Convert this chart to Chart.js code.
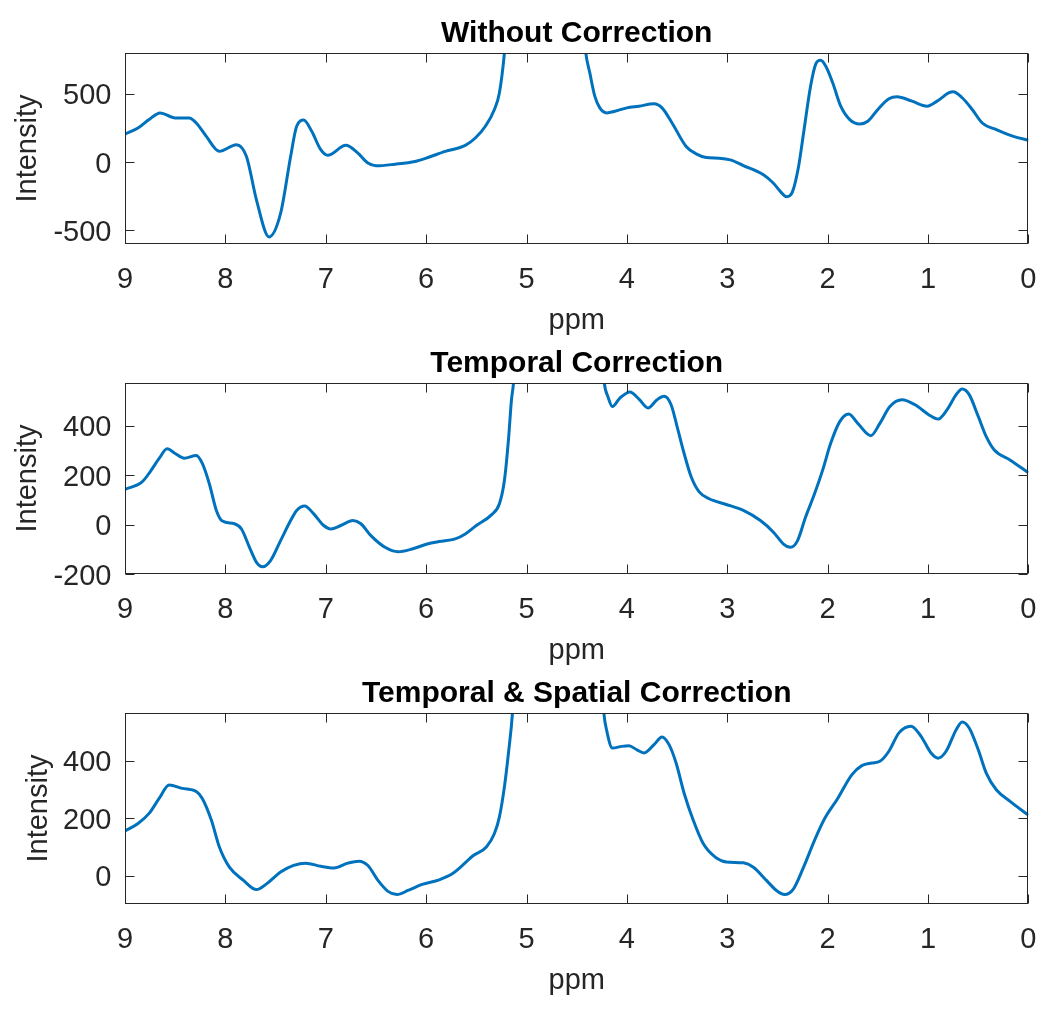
<!DOCTYPE html>
<html>
<head>
<meta charset="utf-8">
<script src="https://cdn.jsdelivr.net/npm/chart.js@4/dist/chart.umd.min.js"></script>
<style>
  html, body { margin: 0; background: #fff; }
  #wrap { position: relative; width: 1055px; height: 1010px; }
  canvas { position: absolute; left: 0; }
</style>
</head>
<body>
<div id="wrap">
  <canvas id="c1" width="1055" height="345" style="top:0px"></canvas>
  <canvas id="c2" width="1055" height="345" style="top:330px"></canvas>
  <canvas id="c3" width="1055" height="345" style="top:660px"></canvas>
</div>
<script>
// x axis (ppm, reversed) ticks shared by all three panels
const xTicks = [9, 8, 7, 6, 5, 4, 3, 2, 1, 0];

// panel 1: without correction (values above the axis top are the clipped water peak)
const ppmRaw = [9.0, 8.87, 8.76, 8.65, 8.5, 8.36, 8.29, 8.19, 8.06, 7.89,
  7.79, 7.69, 7.565, 7.45, 7.35, 7.29, 7.22, 7.14, 7.05, 6.98,
  6.80, 6.68, 6.58, 6.5, 6.31, 6.11, 6.0, 5.81, 5.61, 5.51,
  5.41, 5.32, 5.27, 5.22, 5.1, 4.55, 4.41, 4.37, 4.32, 4.27,
  4.20, 4.12, 4.0, 3.88, 3.73, 3.65, 3.55, 3.41, 3.31, 3.21,
  3.08, 2.97, 2.84, 2.64, 2.54, 2.47, 2.41, 2.35, 2.29, 2.24,
  2.17, 2.12, 2.07, 2.02, 1.95, 1.87, 1.78, 1.68, 1.60, 1.50,
  1.39, 1.31, 1.16, 1.01, 0.91, 0.79, 0.75, 0.66, 0.56, 0.46,
  0.32, 0.15, 0.0];
const intRaw = [206, 250, 312, 361, 324, 324, 287, 189, 79, 128,
  42, -278, -548, -376, 42, 263, 308, 226, 91, 50,
  123, 66, -7, -27, -15, 5, 29, 79, 123, 177,
  263, 386, 509, 803, 2000, 2000, 803, 656, 484, 398,
  361, 373, 398, 410, 428, 398, 287, 115, 61, 34,
  29, 17, -25, -93, -155, -216, -253, -216, -32, 214,
  558, 717, 747, 705, 582, 410, 312, 280, 300, 386,
  464, 479, 447, 410, 447, 509, 516, 472, 386, 287,
  238, 189, 160];
const yLimRaw = [-600, 800];
const yTicksRaw = [-500, 0, 500];

// panel 2: temporal correction
const ppmTemp = [9.0, 8.83, 8.75, 8.66, 8.58, 8.50, 8.41, 8.29, 8.23, 8.16,
  8.09, 8.03, 7.91, 7.84, 7.76, 7.69, 7.63, 7.55, 7.45, 7.35,
  7.29, 7.21, 7.12, 7.02, 6.95, 6.85, 6.73, 6.65, 6.55, 6.41,
  6.28, 6.14, 5.99, 5.87, 5.71, 5.61, 5.50, 5.35, 5.27, 5.22,
  5.18, 5.15, 5.13, 5.0, 4.4, 4.225, 4.19, 4.145, 4.07, 3.97,
  3.88, 3.79, 3.70, 3.63, 3.56, 3.50, 3.43, 3.36, 3.28, 3.18,
  3.01, 2.84, 2.67, 2.54, 2.44, 2.37, 2.30, 2.22, 2.13, 2.05,
  1.97, 1.88, 1.79, 1.70, 1.57, 1.48, 1.38, 1.26, 1.13, 0.99,
  0.90, 0.81, 0.72, 0.66, 0.59, 0.50, 0.42, 0.34, 0.18, 0.0];
const intTemp = [142, 172, 213, 267, 306, 287, 268, 279, 247, 165,
  57, 14, 3, -18, -92, -153, -171, -146, -65, 16,
  57, 75, 43, -4, -18, -4, 16, 3, -45, -92,
  -110, -99, -79, -69, -58, -38, -4, 39, 84, 179,
  342, 504, 572, 1500, 1500, 572, 518, 477, 511, 536,
  507, 471, 504, 518, 484, 396, 287, 193, 132, 104,
  81, 57, 16, -31, -79, -92, -65, 30, 125, 220,
  328, 416, 447, 409, 359, 409, 477, 504, 484, 443,
  426, 464, 525, 548, 525, 437, 355, 301, 260, 209];
const yLimTemp = [-200, 572];
const yTicksTemp = [-200, 0, 200, 400];

// panel 3: temporal & spatial correction
const ppmSpat = [9.0, 8.87, 8.76, 8.66, 8.56, 8.43, 8.29, 8.23, 8.14, 8.06,
  7.96, 7.82, 7.69, 7.59, 7.45, 7.32, 7.20, 7.05, 6.92, 6.78,
  6.67, 6.58, 6.48, 6.38, 6.29, 6.18, 6.04, 5.87, 5.74, 5.62,
  5.54, 5.40, 5.32, 5.27, 5.22, 5.18, 5.14, 5.0, 4.4, 4.23,
  4.20, 4.145, 4.05, 3.98, 3.90, 3.83, 3.73, 3.65, 3.58, 3.51,
  3.43, 3.34, 3.24, 3.12, 3.01, 2.84, 2.74, 2.61, 2.51, 2.43,
  2.34, 2.24, 2.13, 2.03, 1.90, 1.76, 1.66, 1.56, 1.48, 1.39,
  1.29, 1.17, 1.07, 0.97, 0.90, 0.82, 0.72, 0.66, 0.59, 0.50,
  0.42, 0.32, 0.18, 0.0];
const intSpat = [156, 182, 217, 269, 316, 304, 293, 269, 194, 100,
  30, -16, -48, -28, 13, 36, 44, 33, 27, 44,
  51, 36, -16, -54, -65, -51, -30, -14, 7, 42,
  68, 100, 147, 205, 310, 427, 567, 1500, 1500, 567,
  503, 444, 450, 452, 438, 427, 456, 483, 456, 392,
  287, 194, 112, 65, 48, 45, 30, -16, -51, -65,
  -45, 30, 124, 199, 269, 351, 383, 392, 398, 433,
  497, 520, 485, 427, 409, 433, 508, 535, 514, 438,
  357, 299, 258, 211];
const yLimSpat = [-98, 566];
const yTicksSpat = [0, 200, 400];

const FONT = "'Liberation Sans', Arial, Helvetica, sans-serif";
const AXIS_COLOR = '#262626';
const LINE_COLOR = '#0072BD';
const CANVAS_H = 345;
const AREA = { left: 125, right: 1031, top: 53, bottom: 244 };
const TICK_LEN = 9;

// matlab style box with inward ticks on all four sides
const boxPlugin = {
  id: 'matlabBox',
  afterDatasetsDraw(chart) {
    const { ctx, chartArea: a, scales: { x, y } } = chart;
    const l = Math.round(a.left) + 0.5, r = Math.round(a.right) - 0.5;
    const t = Math.round(a.top) + 0.5, b = Math.round(a.bottom) - 0.5;
    ctx.save();
    ctx.strokeStyle = AXIS_COLOR;
    ctx.lineWidth = 1;
    ctx.beginPath();
    x.ticks.forEach(tk => {
      const px = Math.round(x.getPixelForValue(tk.value)) + 0.5;
      ctx.moveTo(px, b); ctx.lineTo(px, b - TICK_LEN);
      ctx.moveTo(px, t); ctx.lineTo(px, t + TICK_LEN);
    });
    y.ticks.forEach(tk => {
      const py = Math.round(y.getPixelForValue(tk.value)) + 0.5;
      ctx.moveTo(l, py); ctx.lineTo(l + TICK_LEN, py);
      ctx.moveTo(r, py); ctx.lineTo(r - TICK_LEN, py);
    });
    ctx.stroke();
    ctx.strokeRect(l, t, r - l, b - t);
    ctx.restore();
  }
};

function makeChart(id, title, ppm, values, yLim, yTicks, labelPad) {
  const tickFont = { family: FONT, size: 29 };
  return new Chart(document.getElementById(id), {
    type: 'line',
    data: {
      datasets: [{
        data: ppm.map((p, i) => ({ x: p, y: values[i] })),
        borderColor: LINE_COLOR,
        borderWidth: 3,
        pointRadius: 0,
        fill: false,
        cubicInterpolationMode: 'monotone'
      }]
    },
    options: {
      responsive: false,
      animation: false,
      layout: { padding: { left: 0, right: 1055 - AREA.right, top: 0, bottom: 0 } },
      plugins: { legend: { display: false }, tooltip: { enabled: false } },
      scales: {
        x: {
          type: 'linear', position: 'bottom', min: 0, max: 9, reverse: true,
          afterBuildTicks: s => { s.ticks = xTicks.map(v => ({ value: v })); },
          afterFit: s => { s.height = CANVAS_H - AREA.bottom; },
          grid: { display: false, drawTicks: false },
          border: { display: false },
          ticks: { font: tickFont, color: AXIS_COLOR, padding: 18.5, maxRotation: 0, autoSkip: false },
          title: { display: true, text: 'ppm', font: tickFont, color: AXIS_COLOR, padding: { top: 0, bottom: 6.5 } }
        },
        xt: {
          type: 'linear', position: 'top', min: 0, max: 9,
          afterFit: s => { s.height = AREA.top; },
          grid: { display: false, drawTicks: false },
          border: { display: false },
          ticks: { display: false },
          title: { display: true, text: title, color: '#000', font: { family: FONT, size: 30, weight: 'bold' }, padding: { top: 16, bottom: 0 } }
        },
        y: {
          type: 'linear', position: 'left', min: yLim[0], max: yLim[1],
          afterBuildTicks: s => { s.ticks = yTicks.map(v => ({ value: v })); },
          afterFit: s => { s.width = AREA.left; },
          grid: { display: false, drawTicks: false },
          border: { display: false },
          ticks: { font: tickFont, color: AXIS_COLOR, padding: 13.5, labelOffset: 2.5 },
          title: { display: true, text: 'Intensity', font: tickFont, color: AXIS_COLOR, padding: { top: labelPad, bottom: 0 } }
        }
      }
    },
    plugins: [boxPlugin]
  });
}

makeChart('c1', 'Without Correction', ppmRaw, intRaw, yLimRaw, yTicksRaw, 10.6);
makeChart('c2', 'Temporal Correction', ppmTemp, intTemp, yLimTemp, yTicksTemp, 10.6);
makeChart('c3', 'Temporal & Spatial Correction', ppmSpat, intSpat, yLimSpat, yTicksSpat, 21.6);
</script>
</body>
</html>
